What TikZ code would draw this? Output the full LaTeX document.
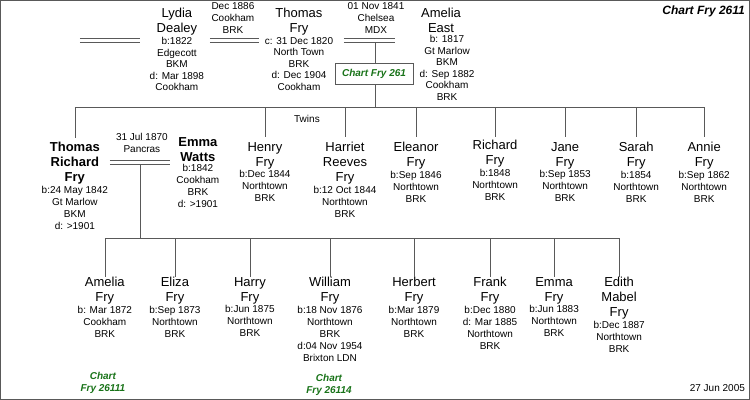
\documentclass[tikz,border=0pt]{standalone}
\usepackage{fontspec}
\setmainfont{Liberation Sans}
\usetikzlibrary{positioning}
\definecolor{chartgreen}{rgb}{0.1,0.45,0.1}
\definecolor{linegray}{rgb}{0.35,0.35,0.35}

\begin{document}
\begin{tikzpicture}[x=1pt,y=-1pt,line width=0.6pt]

	\tikzset{nm/.style={anchor=north, inner sep=0pt, align=center,
			font=\fontsize{13}{15}\selectfont}}
	\tikzset{nmb/.style={nm, font=\fontsize{13}{15}\bfseries}}
	\tikzset{dt/.style={inner sep=0pt, align=center,
			font=\fontsize{10}{12}\selectfont}}
	\tikzset{dtt/.style={dt, font=\fontsize{10}{11.5}\selectfont}}
	\tikzset{chartref/.style={inner sep=0pt, align=center, text=chartgreen,
			font=\fontsize{10}{12}\bfseries\itshape}}
	\tikzset{link/.style={draw=linegray}}

	\draw[linegray] (0.5,0.5) rectangle (749.5,399.5);
	\node[anchor=north east, inner sep=0pt, font=\fontsize{12}{14}\bfseries\itshape] (title) at (745,6) {Chart Fry 2611};
	\node[anchor=south east, dt] (date) at (745,392) {27 Jun 2005};

	% parents
	\node[nm] (lydia) at (177,8) {Lydia\\Dealey};
	\node[dtt, below=1.5pt of lydia] (lydiad) {b:1822\\Edgecott\\BKM\\d: Mar 1898\\Cookham};
	\node[nm] (thomas) at (299,8) {Thomas\\Fry};
	\node[dtt, below=1.5pt of thomas] (thomasd) {c: 31 Dec 1820\\North Town\\BRK\\d: Dec 1904\\Cookham};
	\node[nm] (amelia) at (441,8) {Amelia\\East};
	\node[dtt, below=2pt of amelia, xshift=6pt] (ameliad) {b: 1817\\Gt Marlow\\BKM\\d: Sep 1882\\Cookham\\BRK};
	\node[dt, anchor=north] (m1) at (233,2) {Dec 1886\\Cookham\\BRK};
	\node[dt, anchor=north] (m2) at (376,2) {01 Nov 1841\\Chelsea\\MDX};

	\coordinate (pa) at (80,38.5);  \coordinate (pb) at (140,38.5);
	\coordinate (pc) at (210,38.5); \coordinate (pd) at (259,38.5);
	\coordinate (pe) at (344,38.5); \coordinate (pf) at (395,38.5);
	\foreach \a/\b in {pa/pb,pc/pd,pe/pf} {
		\draw[link] (\a) -- (\b);
		\draw[link] ([yshift=-4pt]\a) -- ([yshift=-4pt]\b);
	}
	\coordinate (fam) at (375,42.5);
	\coordinate (sibs) at (375,107.5);
	\draw[link] (fam) -- (sibs);
	\node[draw=linegray, fill=white, chartref, minimum width=78pt, minimum height=21pt] (ref261) at (374,74) {Chart Fry 261};
	\draw[link] (75,107.5) coordinate (sl) -- (704,107.5) coordinate (sr);

	% children of Thomas and Amelia
	\node[nmb] (tr) at (75,142) {Thomas\\Richard\\Fry};
	\node[dt, below=1pt of tr] (trd) {b:24 May 1842\\Gt Marlow\\BKM\\d: >1901};
	\node[nmb] (ew) at (198,137) {Emma\\Watts};
	\node[dt, below=2.5pt of ew] (ewd) {b:1842\\Cookham\\BRK\\d: >1901};
	\node[dt, anchor=north] (m3) at (142,133) {31 Jul 1870\\Pancras};
	\node[dt] (twins) at (307,119) {Twins};
	\foreach \n/\x/\y/\t/\d in {
		henry/265/142/{Henry\\Fry}/{b:Dec 1844\\Northtown\\BRK},
		harriet/345/142/{Harriet\\Reeves\\Fry}/{b:12 Oct 1844\\Northtown\\BRK},
		eleanor/416/142/{Eleanor\\Fry}/{b:Sep 1846\\Northtown\\BRK},
		richard/495/140/{Richard\\Fry}/{b:1848\\Northtown\\BRK},
		jane/565/142/{Jane\\Fry}/{b:Sep 1853\\Northtown\\BRK},
		sarah/636/142/{Sarah\\Fry}/{b:1854\\Northtown\\BRK},
		annie/704/142/{Annie\\Fry}/{b:Sep 1862\\Northtown\\BRK}} {
		\node[nm] (\n) at (\x,\y) {\t};
		\node[dt, below=1pt of \n] (\n d) {\d};
		\draw[link] (\x,107.5) -- (\x,137);
	}
	\draw[link] (75,107.5) -- (75,138);

	\coordinate (qa) at (110,160.5); \coordinate (qb) at (170,160.5);
	\draw[link] (qa) -- (qb);
	\draw[link] ([yshift=-4pt]qa) -- ([yshift=-4pt]qb);
	\draw[link] (140,164.5) -- (140,238.5);
	\draw[link] (105,238.5) -- (619,238.5);

	% grandchildren
	\foreach \n/\x/\t/\d in {
		gamelia/105/{Amelia\\Fry}/{b: Mar 1872\\Cookham\\BRK},
		eliza/175/{Eliza\\Fry}/{b:Sep 1873\\Northtown\\BRK},
		harry/250/{Harry\\Fry}/{b:Jun 1875\\Northtown\\BRK},
		william/330/{William\\Fry}/{b:18 Nov 1876\\Northtown\\BRK\\d:04 Nov 1954\\Brixton LDN},
		herbert/414/{Herbert\\Fry}/{b:Mar 1879\\Northtown\\BRK},
		frank/490/{Frank\\Fry}/{b:Dec 1880\\d: Mar 1885\\Northtown\\BRK},
		emma/554/{Emma\\Fry}/{b:Jun 1883\\Northtown\\BRK},
		edith/619/{Edith\\Mabel\\Fry}/{b:Dec 1887\\Northtown\\BRK}} {
		\node[nm] (\n) at (\x,277) {\t};
		\node[dt, below=1pt of \n] (\n d) {\d};
		\draw[link] (\x,238.5) -- (\n.north);
	}
	\node[chartref] (ref26111) at (103,383) {Chart\\Fry 26111};
	\node[chartref] (ref26114) at (329,385) {Chart\\Fry 26114};
\end{tikzpicture}
\end{document}
